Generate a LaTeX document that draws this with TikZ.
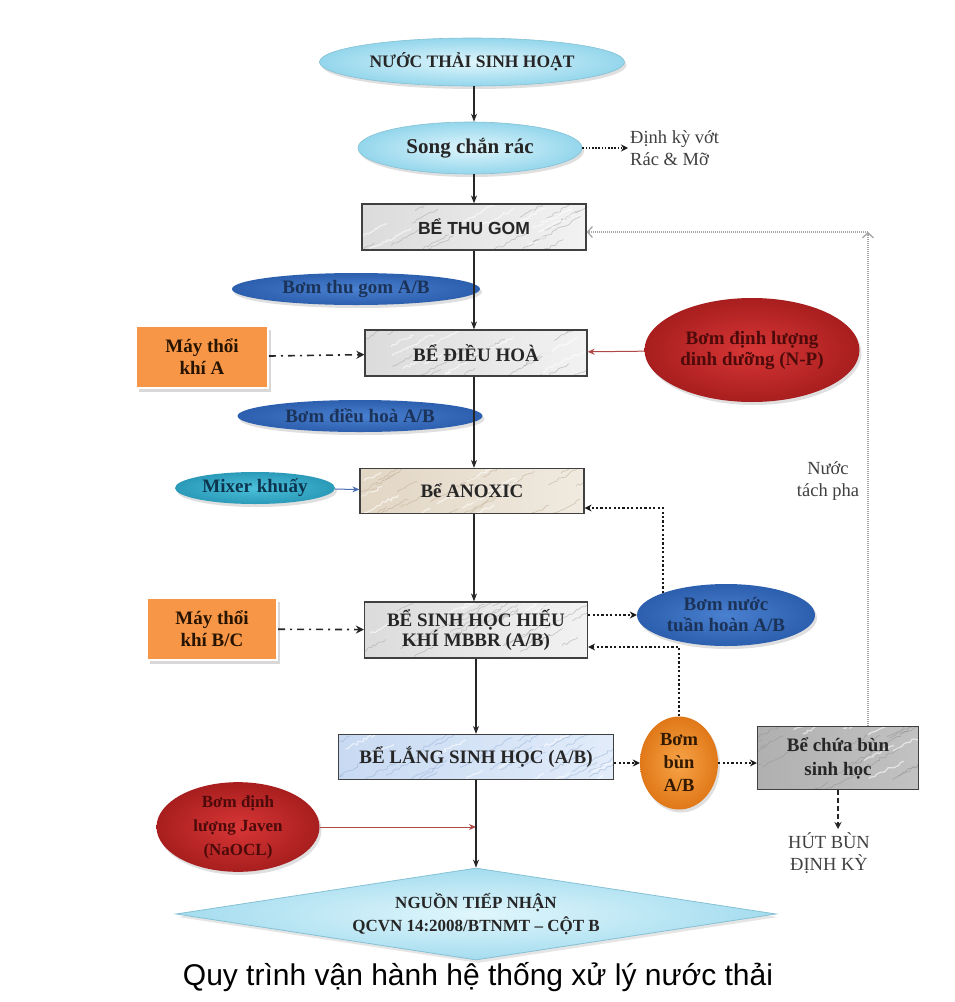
\documentclass[tikz,border=0pt]{standalone}
\usepackage{fontspec}
\setmainfont{Liberation Serif}
\newfontfamily\arialf{Liberation Sans}
\usetikzlibrary{shapes.geometric,arrows.meta,calc,shadows,decorations.pathmorphing}
\definecolor{cyanL}{HTML}{E0F6FC}
\definecolor{cyanD}{HTML}{94D6EC}
\definecolor{blueM}{HTML}{4A80D0}
\definecolor{blueD}{HTML}{2C5FAE}
\definecolor{navyT}{HTML}{1B3358}
\definecolor{redM}{HTML}{D83636}
\definecolor{redD}{HTML}{A81E1E}
\definecolor{redT}{HTML}{4D0A0A}
\definecolor{orangeM}{HTML}{F79646}
\definecolor{orangeC}{HTML}{F7A448}
\definecolor{orangeE}{HTML}{E07818}
\definecolor{tealM}{HTML}{4CC0DA}
\definecolor{tealD}{HTML}{2A9AB8}
\definecolor{tealT}{HTML}{0D3550}
\definecolor{redline}{HTML}{B04848}
\definecolor{blueline}{HTML}{4A6FB0}
\definecolor{anoxA}{RGB}{226,214,196}
\definecolor{anoxB}{RGB}{240,234,224}
\definecolor{anoxV}{RGB}{190,172,148}
\definecolor{langA}{RGB}{200,218,242}
\definecolor{langB}{RGB}{226,236,250}
\definecolor{langV}{RGB}{150,176,212}
\begin{document}
\begin{tikzpicture}[x=1pt,y=-1pt,
  lbl/.style={font=\fontsize{18.5}{22}\selectfont},
  marble/.style={path picture={
    \foreach \k in {1,...,30}{
      \pgfmathsetmacro\ax{300*rnd-150}
      \pgfmathsetmacro\ay{70*rnd-35}
      \pgfmathsetmacro\lx{15+35*rnd}
      \draw[#1, line width=.7pt, opacity=.55, decorate, decoration={random steps, segment length=3pt, amplitude=1.5pt}]
        ([shift={(\ax pt,\ay pt)}]path picture bounding box.center) -- ++(\lx pt, 0.55*\lx pt);
    }
    \foreach \k in {1,...,14}{
      \pgfmathsetmacro\ax{300*rnd-150}
      \pgfmathsetmacro\ay{70*rnd-35}
      \pgfmathsetmacro\lx{15+30*rnd}
      \draw[white, line width=1.2pt, opacity=.6, decorate, decoration={random steps, segment length=3pt, amplitude=1.5pt}]
        ([shift={(\ax pt,\ay pt)}]path picture bounding box.center) -- ++(\lx pt, 0.5*\lx pt);
    }}},
  tank/.style={rectangle, draw=black!75, line width=1.2pt, inner sep=0, align=center,
    font=\bfseries\fontsize{19}{20.5}\selectfont, text=black!85},
  greytank/.style={tank, left color=gray!28, right color=gray!10, marble=gray!70},
  anoxtank/.style={tank, left color=anoxA, right color=anoxB, marble=anoxV},
  langtank/.style={tank, left color=langA, right color=langB, marble=langV},
  darktank/.style={tank, left color=gray!62, right color=gray!48, marble=gray!85},
  ell/.style={ellipse, inner sep=0, align=center, font=\bfseries\fontsize{19}{21}\selectfont,
    drop shadow={opacity=.25, shadow xshift=2pt, shadow yshift=-3pt}},
  cyanell/.style={ell, inner color=cyanL, outer color=cyanD, draw=cyanD!90!black, line width=.6pt, text=black!85},
  blueell/.style={ell, inner color=blueM, outer color=blueD, text=navyT},
  redell/.style={ell, inner color=redM, outer color=redD, text=redT},
  tealell/.style={ell, inner color=tealM, outer color=tealD, text=tealT},
  orangecirc/.style={ell, inner color=orangeC, outer color=orangeE, text=black!80!orange},
  orangebox/.style={rectangle, fill=orangeM, draw=white, line width=2pt, inner sep=0, align=center,
    font=\bfseries\fontsize{19}{22}\selectfont, text=black!85!orange,
    drop shadow={opacity=.3, shadow xshift=3pt, shadow yshift=-4pt}},
  flow/.style={-{Stealth[length=8pt,width=6pt]}, line width=1.2pt, black!85},
  dotflow/.style={-{Stealth[length=7pt,width=7pt]}, line width=2.2pt, black!90, dash pattern=on 2.2pt off 2.2pt},
  dashdotflow/.style={-{Stealth[length=8pt,width=8pt]}, line width=1.6pt, black!85, dash pattern=on 7pt off 5pt on 2pt off 5pt},
  dashflow/.style={-{Stealth[length=7pt,width=7pt]}, line width=1.6pt, black!85, dash pattern=on 5pt off 3pt},
  redflow/.style={-{Stealth[length=7pt,width=6pt]}, line width=1pt, redline},
  blueflow/.style={-{Stealth[length=7pt,width=6pt]}, line width=1pt, blueline},
  retflow/.style={-{Straight Barb[length=5pt,width=11pt]}, line width=1.3pt, gray!70, dash pattern=on 1pt off 1pt}
]
\pgfmathsetseed{4242}
\useasboundingbox (0,0) rectangle (954,1002);
\fill[white] (0,0) rectangle (954,1002);

% nodes
\node[cyanell, minimum width=305, minimum height=48, font=\bfseries\fontsize{17.5}{19}\selectfont] (src) at (472,62) {NƯỚC THẢI SINH HOẠT};
\node[cyanell, minimum width=224, minimum height=52, font=\bfseries\fontsize{21}{23}\selectfont] (song) at (470,148) {Song chắn rác};
\node[lbl, anchor=west, align=left, text=black!75, inner sep=2pt] (vot) at (628,148) {Định kỳ vớt\\Rác \& Mỡ};
\node[greytank, minimum width=224, minimum height=46] (thugom) at (474,227) {\arialf\bfseries\fontsize{17.5}{20}\selectfont BỂ THU GOM};
\node[blueell, minimum width=248, minimum height=32] (btg) at (356,289) {Bơm thu gom A/B};
\node[greytank, minimum width=222, minimum height=46] (dieuhoa) at (476,353) {BỂ ĐIỀU HOÀ};
\node[orangebox, minimum width=132, minimum height=62] (mtA) at (202,357) {Máy thổi\\khí A};
\node[redell, minimum width=215, minimum height=104] (npump) at (752,350) {Bơm định lượng\\dinh dưỡng (N-P)};
\node[blueell, minimum width=245, minimum height=32] (bdh) at (360,416) {Bơm điều hoà A/B};
\node[anoxtank, minimum width=224, minimum height=45] (anoxic) at (472,491) {Bể ANOXIC};
\node[tealell, minimum width=160, minimum height=32] (mixer) at (255,488) {Mixer khuấy};
\node[lbl, align=center, text=black!75] (tachpha) at (828,481) {Nước\\tách pha};
\node[greytank, minimum width=223, minimum height=56] (mbbr) at (476,630) {BỂ SINH HỌC HIẾU\\KHÍ MBBR (A/B)};
\node[orangebox, minimum width=130, minimum height=62] (mtBC) at (212,629) {Máy thổi\\khí B/C};
\node[blueell, minimum width=178, minimum height=62] (bnth) at (726,615) {Bơm nước\\tuần hoàn A/B};
\node[langtank, minimum width=275, minimum height=45] (lang) at (476,757) {BỂ LẮNG SINH HỌC (A/B)};
\node[orangecirc, minimum width=78, minimum height=93, font=\bfseries\fontsize{18.5}{23}\selectfont] (bbun) at (679,763) {Bơm\\bùn\\A/B};
\node[darktank, minimum width=161, minimum height=63, font=\bfseries\fontsize{19}{24}\selectfont] (chuabun) at (838,758) {Bể chứa bùn\\sinh học};
\node[lbl, align=center, text=black!75] (hut) at (829,853) {HÚT BÙN\\ĐỊNH KỲ};
\node[redell, minimum width=163, minimum height=85, font=\bfseries\fontsize{17}{24}\selectfont] (javen) at (238,827) {Bơm định\\lượng Javen\\(NaOCL)};
\node[diamond, aspect=6.6, minimum width=600, minimum height=92, inner sep=0, align=center,
  inner color=cyanL, outer color=cyanD!85, draw=cyanD!90!black, line width=.8pt,
  font=\bfseries\fontsize{17}{23}\selectfont, text=black!85,
  drop shadow={opacity=.2, shadow xshift=2pt, shadow yshift=-3pt}] (nguon) at (476,914) {NGUỒN TIẾP NHẬN\\QCVN 14:2008/BTNMT – CỘT B};
\node[font=\arialf\fontsize{30}{32}\selectfont, text=black] (cap) at (478,977) {Quy trình vận hành hệ thống xử lý nước thải};

\coordinate (rtop) at (868,232);

% connectors
\draw[flow] (src.south -| thugom.north) -- (song.north -| thugom.north);
\draw[flow] (song.south -| thugom.north) -- (thugom.north);
\draw[dotflow, line width=1.6pt, dash pattern=on 1.6pt off 1.6pt] (song.east) -- (vot.west);
\draw[flow] (thugom.south) -- (thugom.south |- dieuhoa.north);
\draw[dashdotflow] (mtA) -- (dieuhoa);
\draw[redflow] (npump) -- (dieuhoa);
\draw[flow] (dieuhoa.south -| thugom.south) -- (thugom.south |- anoxic.north);
\draw[blueflow] (mixer) -- (anoxic);
\draw[flow] (anoxic.south -| thugom.south) -- (thugom.south |- mbbr.north);
\draw[dashdotflow] (mtBC) -- (mbbr);
\draw[dotflow] (bnth.west -| mbbr.east) -- (bnth.west);
\draw[dotflow] (bnth.north west) |- ([yshift=-17pt]anoxic.east);
\draw[dotflow] (bbun.north) |- ([yshift=-17pt]mbbr.east);
\draw[flow] (mbbr.south) -- (mbbr.south |- lang.north);
\draw[dotflow] (bbun.west -| lang.east) -- (bbun.west);
\draw[dotflow] (bbun.east) -- (bbun.east -| chuabun.west);
\draw[dashflow] (chuabun.south) -- (chuabun.south |- hut.north);
\draw[redflow] (javen.east) -- (javen.east -| lang.south);
\draw[flow] (lang.south) -- (nguon.north);
\draw[retflow] (chuabun.north -| rtop) -- (rtop);
\draw[retflow] (rtop) -- (rtop -| thugom.east);
\end{tikzpicture}
\end{document}
